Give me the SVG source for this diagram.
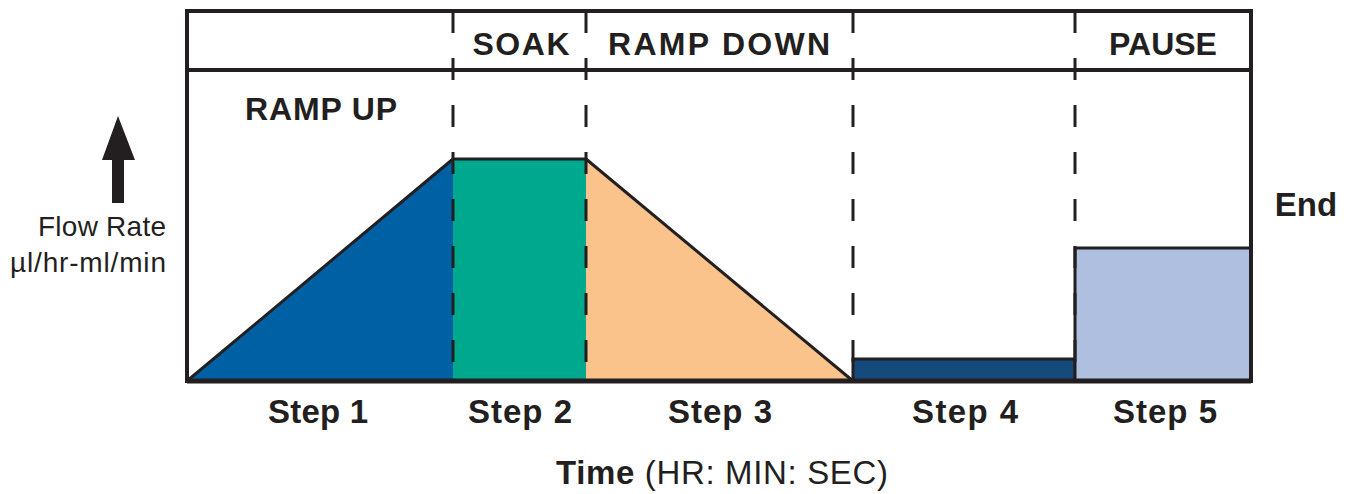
<svg xmlns="http://www.w3.org/2000/svg" width="1347" height="494" viewBox="0 0 1347 494">
<style>
.frame{fill:none;stroke:#231f20;stroke-width:4}
.edge{stroke:#231f20;stroke-width:3;stroke-linejoin:miter}
.dash{stroke:#231f20;stroke-width:3;stroke-dasharray:22 25}
.hdr{font-family:"Liberation Sans",Arial,sans-serif;font-weight:bold;font-size:32px;fill:#231f20;text-anchor:middle}
.step{font-family:"Liberation Sans",Arial,sans-serif;font-weight:bold;font-size:33px;fill:#231f20;text-anchor:middle}
.axis{font-family:"Liberation Sans",Arial,sans-serif;font-size:28px;fill:#231f20;text-anchor:end}
</style>
<rect width="1347" height="494" fill="#ffffff"/>
<g id="step1">
<polygon points="187,381 453,159 453,381" fill="#0060a4"/>
<line x1="187" y1="381" x2="453" y2="159" class="edge"/>
</g>
<g id="step2">
<rect x="453" y="159" width="133" height="222" fill="#00a88e"/>
<line x1="453" y1="159" x2="586" y2="159" class="edge"/>
</g>
<g id="step3">
<polygon points="586,159 853,381 586,381" fill="#f9c38b"/>
<line x1="586" y1="159" x2="853" y2="381" class="edge"/>
</g>
<g id="step4">
<rect x="853" y="359" width="222" height="22" fill="#174a7c" class="edge"/>
</g>
<g id="step5">
<rect x="1075" y="248" width="176" height="133" fill="#afbfdf" class="edge"/>
</g>
<g id="connectors">
<line x1="453" y1="11" x2="453" y2="381" class="dash"/>
<line x1="586" y1="11" x2="586" y2="381" class="dash"/>
<line x1="853" y1="11" x2="853" y2="381" class="dash"/>
<line x1="1075" y1="11" x2="1075" y2="381" class="dash"/>
</g>
<g id="frame">
<rect x="187" y="11" width="1064" height="370" class="frame"/>
<line x1="187" y1="70" x2="1251" y2="70" class="frame"/>
<line x1="187" y1="381" x2="1251" y2="381" stroke="#231f20" stroke-width="5"/>
</g>
<g id="labels">
<text x="521" y="55" class="hdr" textLength="97" lengthAdjust="spacing">SOAK</text>
<text x="719" y="55" class="hdr" textLength="222" lengthAdjust="spacing">RAMP DOWN</text>
<text x="1163" y="55" class="hdr" font-size="30">PAUSE</text>
<text x="321" y="120" class="hdr" font-size="33" textLength="152" lengthAdjust="spacing">RAMP UP</text>
<text x="1306" y="216" class="step" font-size="34">End</text>
<text x="318" y="423" class="step" textLength="100" lengthAdjust="spacing">Step 1</text>
<text x="520" y="423" class="step" textLength="104" lengthAdjust="spacing">Step 2</text>
<text x="720" y="423" class="step" textLength="104" lengthAdjust="spacing">Step 3</text>
<text x="965" y="423" class="step" textLength="106" lengthAdjust="spacing">Step 4</text>
<text x="1165" y="423" class="step" textLength="104" lengthAdjust="spacing">Step 5</text>
<text x="556" y="484" font-family="Liberation Sans, Arial, sans-serif" font-size="33" fill="#231f20" textLength="332" lengthAdjust="spacing"><tspan font-weight="bold">Time</tspan> (HR: MIN: SEC)</text>
</g>
<g id="yaxis">
<polygon points="118,116 102,160 112,160 112,203 124,203 124,160 135,160" fill="#231f20"/>
<text x="166" y="236" class="axis" textLength="128" lengthAdjust="spacing">Flow Rate</text>
<text x="166" y="272" class="axis" textLength="156" lengthAdjust="spacing">µl/hr-ml/min</text>
</g>
</svg>
